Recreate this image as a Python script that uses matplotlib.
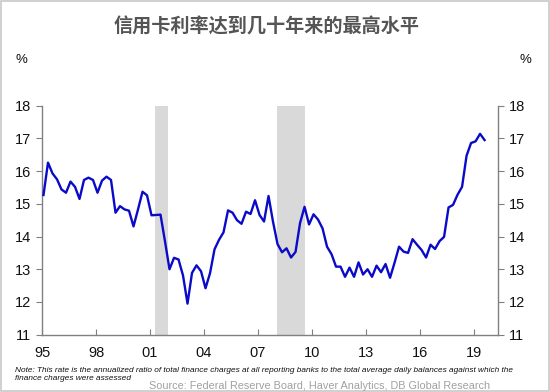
import matplotlib
matplotlib.use("Agg")
import matplotlib.pyplot as plt
from matplotlib.patches import Rectangle
import numpy as np

# ---- data ----
start_year = 1995 + 1/12          # first observation (Feb 1995), quarterly
rates = [15.27, 16.26, 15.93, 15.75, 15.44, 15.34, 15.68, 15.52, 15.15, 15.73,
         15.80, 15.73, 15.34, 15.71, 15.83, 15.73, 14.73, 14.93, 14.83, 14.79,
         14.31, 14.83, 15.37, 15.26, 14.65, 14.66, 14.67, 13.85, 13.00, 13.35,
         13.30, 12.81, 11.95, 12.89, 13.12, 12.94, 12.42, 12.88, 13.61, 13.90,
         14.13, 14.80, 14.73, 14.50, 14.39, 14.76, 14.69, 15.11, 14.66, 14.46,
         15.24, 14.45, 13.77, 13.52, 13.64, 13.36, 13.53, 14.41, 14.91, 14.37,
         14.68, 14.52, 14.25, 13.69, 13.46, 13.08, 13.08, 12.77, 13.05, 12.77,
         13.21, 12.84, 13.00, 12.77, 13.11, 12.91, 13.16, 12.74, 13.20, 13.69,
         13.54, 13.50, 13.92, 13.75, 13.59, 13.36, 13.75, 13.62, 13.86, 13.99,
         14.89, 14.97, 15.28, 15.52, 16.47, 16.86, 16.91, 17.14, 16.95]
recessions = [(2001.3, 2002.0), (2008.05, 2009.6)]
tick_years = [1995, 1998, 2001, 2004, 2007, 2010, 2013, 2016, 2019]
tick_labels = ["95", "98", "01", "04", "07", "10", "13", "16", "19"]
y_ticks = [11, 12, 13, 14, 15, 16, 17, 18]

title = "信用卡利率达到几十年来的最高水平"
note_line1 = ("Note: This rate is the annualized ratio of total finance charges at all reporting banks "
              "to the total average daily balances against which the")
note_line2 = "finance charges were assessed"
source = "Source: Federal Reserve Board, Haver Analytics, DB Global Research"

dates = start_year + 0.25 * np.arange(len(rates))

plt.rcParams['font.family'] = ['Liberation Sans', 'DejaVu Sans']

fig = plt.figure(figsize=(5.5, 3.92), dpi=100)
fig.patch.set_facecolor("white")
fig.add_artist(Rectangle((0.002, 0.003), 0.996, 0.994, transform=fig.transFigure,
                         fill=False, edgecolor="#c8c8c8", linewidth=1.2))

ax = fig.add_axes([42/550, 57.3/392, 456/550, 229/392])
for a, b in recessions:
    ax.axvspan(a, b, color="#d9d9d9", lw=0, zorder=0)
ax.plot(dates, rates, color="#0a0ac8", lw=1.7, zorder=3)

ax.set_xlim(1995, 2020.33)
ax.set_ylim(11, 18)
ax.set_xticks(tick_years)
ax.set_xticklabels(tick_labels)
ax.set_yticks(y_ticks)
ax.set_yticklabels([str(v) for v in y_ticks])

gray = "#808080"
for s in ["left", "right", "bottom"]:
    ax.spines[s].set_color(gray)
    ax.spines[s].set_linewidth(1.0)
ax.spines["top"].set_visible(False)

ax.tick_params(axis="y", which="both", left=True, right=True, labelleft=True,
               labelright=True, direction="out", length=4, color=gray,
               labelsize=10.5, labelcolor="#111111", pad=4)
ax.tick_params(axis="x", direction="in", length=4, color=gray,
               labelsize=10.5, labelcolor="#111111", pad=8)

fig.text(267/550, 1 - 27/392, title, ha="center", va="center", fontsize=13.8,
         fontweight="bold", color="#555555",
         family=["Noto Sans CJK SC", "DejaVu Sans"])
fig.text(15/550, 1 - 60/392, "%", ha="left", va="center", fontsize=9.5, color="#111111")
fig.text(519/550, 1 - 60/392, "%", ha="left", va="center", fontsize=9.5, color="#111111")

fig.text(15/550, 1 - 370/392, note_line1, ha="left", va="center", fontsize=5.95,
         style="italic", color="#111111")
fig.text(15/550, 1 - 379/392, note_line2, ha="left", va="center", fontsize=5.95,
         style="italic", color="#111111")
fig.text(320/550, 1 - 386/392, source, ha="center", va="center", fontsize=7.8,
         color="#a0a0a0")

fig.savefig("out.png", dpi=100)
